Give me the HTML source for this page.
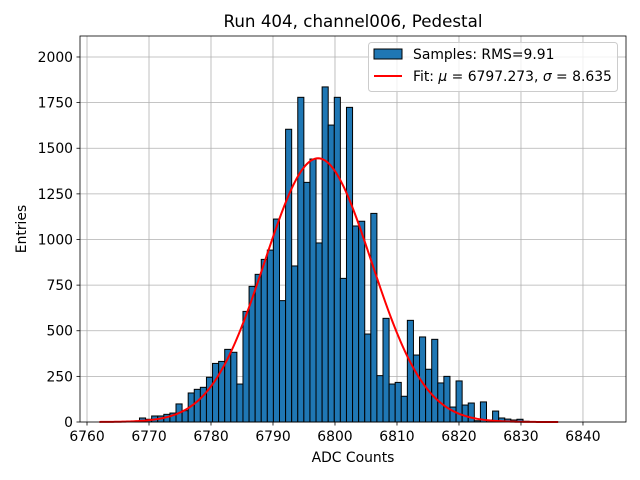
<!DOCTYPE html>
<html><head><meta charset="utf-8"><style>
body{margin:0;background:#fff;}
svg{display:block;font-family:"DejaVu Sans","Liberation Sans",sans-serif;}
</style></head><body>
<svg id="chart" width="640" height="480" viewBox="0 0 640 480" xmlns="http://www.w3.org/2000/svg">
<rect width="640" height="480" fill="#fff"/>
<text x="353" y="27" font-size="16.7" text-anchor="middle">Run 404, channel006, Pedestal</text>
<text x="353" y="462" font-size="13.9" text-anchor="middle">ADC Counts</text>
<text x="26" y="229" font-size="13.9" text-anchor="middle" transform="rotate(-90 26 229)">Entries</text>
<g id="grid"></g><g id="bars"></g><g id="fit"></g><g id="axes"></g>
<g>
<rect x="368.5" y="42.5" width="249" height="49" rx="3" fill="#fff" fill-opacity="0.8" stroke="#ccc"/>
<rect x="374" y="49" width="28" height="10" fill="#1f77b4" stroke="#000"/>
<text x="413" y="59" font-size="13.9">Samples: RMS=9.91</text>
<line x1="374" y1="76" x2="402" y2="76" stroke="red" stroke-width="2"/>
<text x="413" y="81" font-size="13.9">Fit: <tspan font-style="italic">μ</tspan> = 6797.273, <tspan font-style="italic">σ</tspan> = 8.635</text>
</g>
</svg>
<script>
const binStart = 6766.5;
const binWidth = 0.982;
const counts = [5,5,22,15,33,33,42,49,99,62,159,179,190,245,321,332,398,382,208,606,743,809,891,942,1112,
665,1604,855,1779,1313,1441,981,1836,1627,1779,787,1724,1074,1100,482,1143,254,568,208,217,
141,557,367,466,289,453,214,250,82,225,93,104,7,110,11,60,22,16,11,15,4];
const fitMu = 6797.273;
const fitSigma = 8.635;
const fitAmp = 1445;
const fitRange = [6762, 6836];
const xTicks = [6760,6770,6780,6790,6800,6810,6820,6830,6840];
const yTicks = [0,250,500,750,1000,1250,1500,1750,2000];

const L=80,R=626,T=36,B=422;
const xMin=6758.87,xMax=6846.94,yMax=2115;
const sx=v=>L+(v-xMin)/(xMax-xMin)*(R-L);
const sy=v=>B-v/yMax*(B-T);
const NS="http://www.w3.org/2000/svg";
function mk(tag,attrs,parent){const e=document.createElementNS(NS,tag);for(const k in attrs)e.setAttribute(k,attrs[k]);parent.appendChild(e);return e;}
const grid=document.getElementById('grid'),bars=document.getElementById('bars'),fit=document.getElementById('fit'),axes=document.getElementById('axes');
xTicks.forEach(t=>{const x=sx(t);
 const g=mk('line',{x1:x,x2:x,y1:T,y2:B,stroke:'#b0b0b0','stroke-width':0.8},grid);
 
 
 mk('line',{x1:x,x2:x,y1:B,y2:B+3.5,stroke:'#000','stroke-width':0.8},axes);
 const tx=mk('text',{x:x,y:B+19,'font-size':13.9,'text-anchor':'middle'},axes);tx.textContent=t;
 
 
});
yTicks.forEach(t=>{const y=sy(t);
 const g=mk('line',{x1:L,x2:R,y1:y,y2:y,stroke:'#b0b0b0','stroke-width':0.8},grid);
 
 
 mk('line',{x1:L-3.5,x2:L,y1:y,y2:y,stroke:'#000','stroke-width':0.8},axes);
 const tx=mk('text',{x:L-7,y:y+5,'font-size':13.9,'text-anchor':'end'},axes);tx.textContent=t;
 
 
});
counts.forEach((c,i)=>{const x0=sx(binStart+i*binWidth),x1=sx(binStart+(i+1)*binWidth);
 const r=mk('rect',{x:x0,y:sy(c),width:x1-x0,height:B-sy(c),fill:'#1f77b4',stroke:'#000','stroke-width':1},bars);
 
 
});
let d='';
for(let i=0;i<=300;i++){const v=fitRange[0]+(fitRange[1]-fitRange[0])*i/300;
 const yv=fitAmp*Math.exp(-0.5*((v-fitMu)/fitSigma)**2);
 d+=(i?'L':'M')+sx(v).toFixed(2)+','+sy(yv).toFixed(2);}
const p=mk('path',{d:d,fill:'none',stroke:'red','stroke-width':2},fit);


const f=mk('rect',{x:L,y:T,width:R-L,height:B-T,fill:'none',stroke:'#000','stroke-width':0.8},axes);


</script>
</body></html>
